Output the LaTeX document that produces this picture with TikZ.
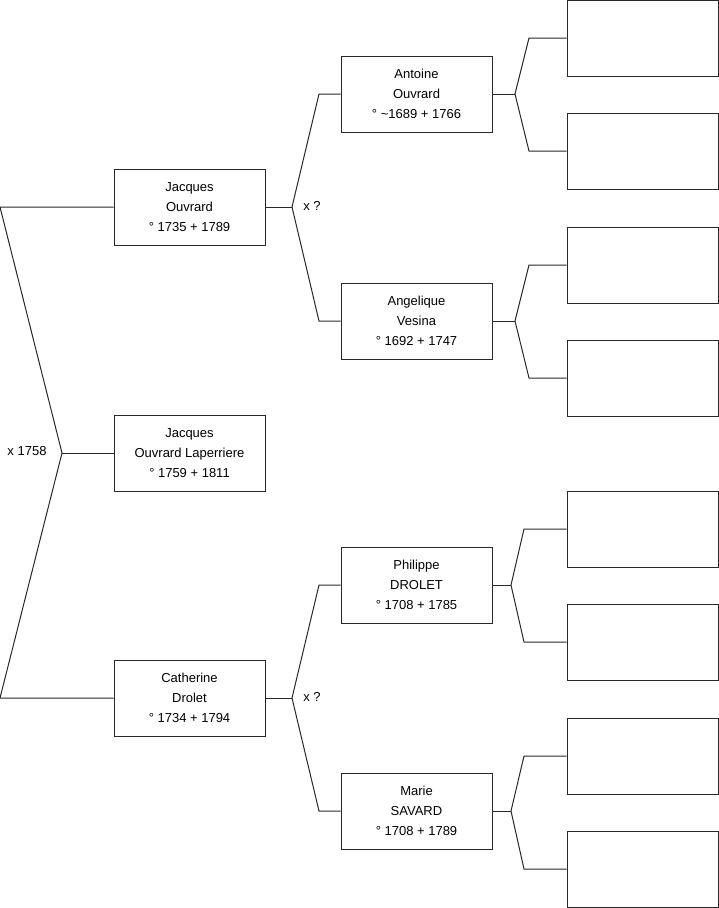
\documentclass[tikz,border=0pt]{standalone}
\usepackage{fontspec}
\setmainfont{Liberation Sans}
\definecolor{linegray}{RGB}{40, 40, 40}
\usetikzlibrary{positioning, calc}

\begin{document}
\begin{tikzpicture}[x=1pt, y=-1pt,
    person/.style={draw=linegray, line width=1pt, minimum width=151pt, minimum height=76pt, inner sep=0pt, align=center, font=\fontsize{13}{20}\selectfont},
    blank/.style={draw=linegray, line width=1pt, minimum width=151pt, minimum height=76pt, inner sep=0pt},
    link/.style={draw=linegray, line width=1pt},
    marriage/.style={font=\fontsize{13}{14}\selectfont}]
  \useasboundingbox (0,0) rectangle (719,908);

  % Root and parents
  \node[person] (jo) at (189.5, 207) {Jacques\\Ouvrard\\° 1735 + 1789};
  \node[person] (jl) at (189.5, 453) {Jacques\\Ouvrard Laperriere\\° 1759 + 1811};
  \node[person] (cd) at (189.5, 698) {Catherine\\Drolet\\° 1734 + 1794};

  % Grandparents
  \node[person] (ao) at (416.5, 94) {Antoine\\Ouvrard\\° \textasciitilde1689 + 1766};
  \node[person] (av) at (416.5, 321) {Angelique\\Vesina\\° 1692 + 1747};
  \node[person] (pd) at (416.5, 585) {Philippe\\DROLET\\° 1708 + 1785};
  \node[person] (ms) at (416.5, 811) {Marie\\SAVARD\\° 1708 + 1789};

  % Great-grandparents (unknown)
  \node[blank] (b1) at (642.5, 38) {};
  \node[blank] (b2) at (642.5, 151) {};
  \node[blank] (b3) at (642.5, 265) {};
  \node[blank] (b4) at (642.5, 378) {};
  \node[blank] (b5) at (642.5, 529) {};
  \node[blank] (b6) at (642.5, 642) {};
  \node[blank] (b7) at (642.5, 756) {};
  \node[blank] (b8) at (642.5, 869) {};

  % Fork points
  \coordinate (f0) at (62, 453);
  \coordinate (f0a) at (0, 207);
  \coordinate (f0b) at (0, 698);
  \coordinate (f1) at (292, 207);
  \coordinate (f1a) at (319, 94);
  \coordinate (f1b) at (319, 321);
  \coordinate (f2) at (292, 698);
  \coordinate (f2a) at (319, 585);
  \coordinate (f2b) at (319, 811);
  \coordinate (f3) at (515, 94);
  \coordinate (f3a) at (529, 38);
  \coordinate (f3b) at (529, 151);
  \coordinate (f4) at (515, 321);
  \coordinate (f4a) at (529, 265);
  \coordinate (f4b) at (529, 378);
  \coordinate (f5) at (511, 585);
  \coordinate (f5a) at (524, 529);
  \coordinate (f5b) at (524, 642);
  \coordinate (f6) at (511, 811);
  \coordinate (f6a) at (524, 756);
  \coordinate (f6b) at (524, 869);

  % Connectors
  \draw[link] (jl.west) -- (f0);
  \draw[link] (jo.west) -- (f0a) -- (f0) -- (f0b) -- (cd.west);
  \draw[link] (jo.east) -- (f1);
  \draw[link] (ao.west) -- (f1a) -- (f1) -- (f1b) -- (av.west);
  \draw[link] (cd.east) -- (f2);
  \draw[link] (pd.west) -- (f2a) -- (f2) -- (f2b) -- (ms.west);
  \draw[link] (ao.east) -- (f3);
  \draw[link] (b1.west) -- (f3a) -- (f3) -- (f3b) -- (b2.west);
  \draw[link] (av.east) -- (f4);
  \draw[link] (b3.west) -- (f4a) -- (f4) -- (f4b) -- (b4.west);
  \draw[link] (pd.east) -- (f5);
  \draw[link] (b5.west) -- (f5a) -- (f5) -- (f5b) -- (b6.west);
  \draw[link] (ms.east) -- (f6);
  \draw[link] (b7.west) -- (f6a) -- (f6) -- (f6b) -- (b8.west);

  % Marriages
  \node[marriage] (m0) at (27, 451) {x 1758};
  \node[marriage] (m1) at (312, 206) {x ?};
  \node[marriage] (m2) at (312, 697) {x ?};
\end{tikzpicture}
\end{document}
